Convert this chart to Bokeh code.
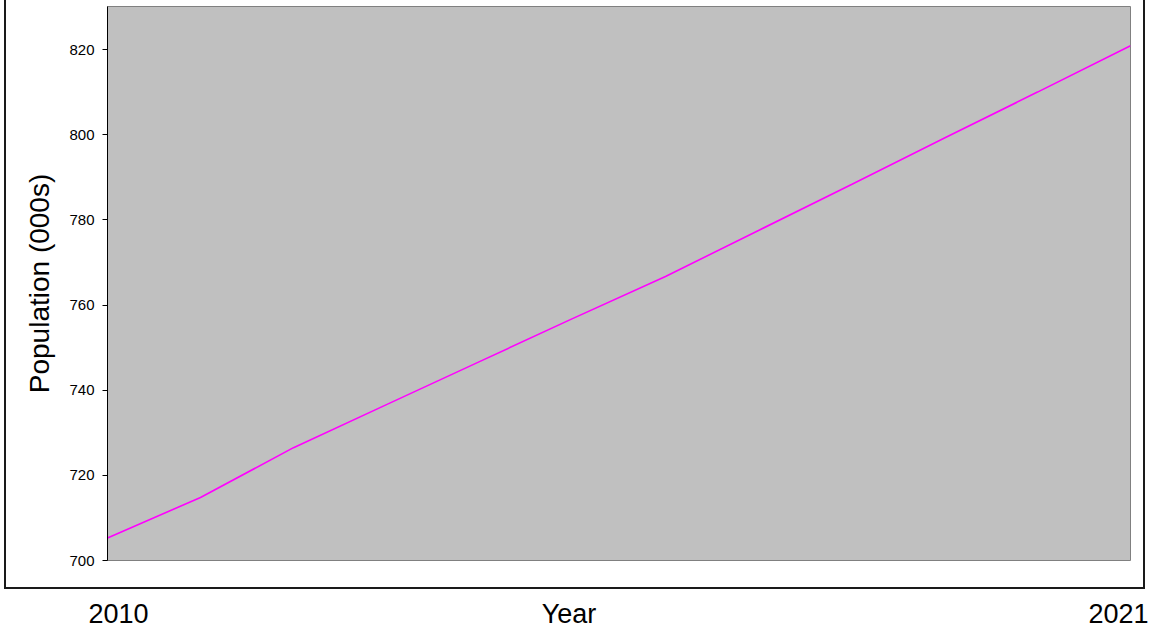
from bokeh.plotting import figure
from bokeh.models import LinearAxis, FixedTicker, Range1d
from bokeh.embed import file_html
from bokeh.resources import INLINE

# ---- data ----
years = [2010, 2011, 2012, 2013, 2014, 2015, 2016, 2017, 2018, 2019, 2020, 2021]
population = [705.3, 714.8, 726.5, 736.6, 746.7, 756.8, 766.7, 777.5, 788.3, 799.2, 810.0, 820.9]
y_ticks = [700, 720, 740, 760, 780, 800, 820]
x_tick_labels = ["2010", "2021"]
x_title = "Year"
y_title = "Population (000s)"

FONT = "Liberation Sans"

# outer box drawn as CSS background lines behind a transparent canvas
LC = "#1a1a1a"
grad = f"linear-gradient({LC},{LC})"
box_css = {
    "margin": "0px 0px -10px 4px",
    "background-image": ", ".join([grad, grad, grad]),
    "background-size": "2px 589px, 2px 589px, 1141px 2px",
    "background-position": "0px 0px, 1139px 0px, 0px 587px",
    "background-repeat": "no-repeat",
}

p = figure(width=1144, height=631, output_backend="svg", toolbar_location=None,
           x_range=Range1d(years[0], years[-1]), y_range=Range1d(700, 830.1),
           min_border_left=103, min_border_right=18, min_border_top=6, min_border_bottom=71,
           background_fill_color="#C0C0C0", border_fill_color=None,
           outline_line_color="#808080", outline_line_width=1,
           styles=box_css)

p.grid.visible = False
p.xaxis.visible = False

ya = p.yaxis[0]
ya.ticker = FixedTicker(ticks=y_ticks)
ya.axis_line_color = "black"
ya.major_tick_line_color = "black"
ya.major_tick_out = 5
ya.major_tick_in = 0
ya.minor_tick_line_color = None
ya.major_label_standoff = 8
ya.major_label_text_font = FONT
ya.major_label_text_font_size = "15px"
ya.major_label_text_color = "black"
ya.axis_label = y_title
ya.axis_label_text_font = FONT
ya.axis_label_text_font_size = "28px"
ya.axis_label_text_font_style = "normal"
ya.axis_label_text_color = "black"
ya.axis_label_standoff = 11

p.line(years, population, line_color="#FF00FF", line_width=1.6)

# bottom labels: first/last year and the axis title, set on a label axis whose
# range is inset slightly from the frame (as in the reference layout)
inset_left, inset_right, frame_w = 11, 11.5, 1023
span = years[-1] - years[0]
per_px = span / (frame_w - inset_left - inset_right)
p.extra_x_ranges = {"lbl": Range1d(years[0] - inset_left * per_px,
                                   years[-1] + inset_right * per_px)}
mid = years[0] + 450.5 * per_px
lab_axis = LinearAxis(x_range_name="lbl",
                      ticker=FixedTicker(ticks=[years[0], mid, years[-1]]),
                      major_label_overrides={years[0]: x_tick_labels[0], mid: x_title,
                                             years[-1]: x_tick_labels[1]},
                      axis_line_color=None, major_tick_line_color=None,
                      minor_tick_line_color=None, major_tick_out=0, major_tick_in=0,
                      major_label_standoff=38, major_label_text_font=FONT,
                      major_label_text_font_size="27px", major_label_text_color="black")
p.add_layout(lab_axis, "below")

open("out.html", "w").write(file_html(p, INLINE))
